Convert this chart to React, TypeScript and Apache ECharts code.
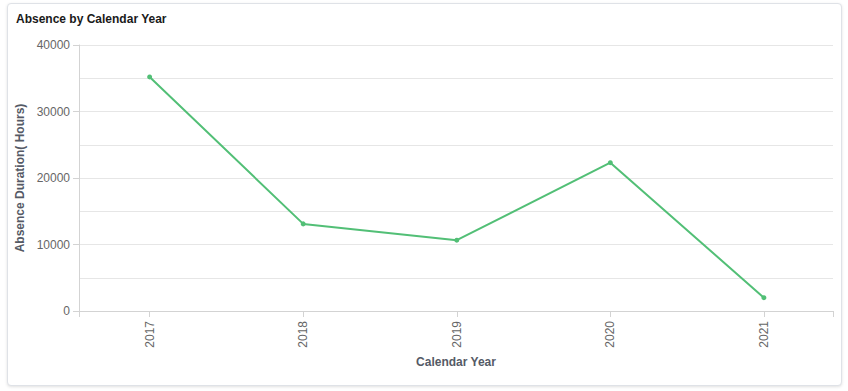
import React, { useEffect, useRef } from "react";
import * as echarts from "echarts";

const years = [2017, 2018, 2019, 2020, 2021];
const hours = [35200, 13100, 10650, 22300, 2000];

const FONT = "'Liberation Sans', Arial, Helvetica, sans-serif";

export default function App() {
  const ref = useRef<HTMLDivElement>(null);

  useEffect(() => {
    document.body.style.margin = "0";
    if (!ref.current) return;
    const chart = echarts.init(ref.current, undefined, { renderer: "svg" });
    chart.setOption({
      animation: false,
      title: {
        text: "Absence by Calendar Year",
        left: 11,
        top: 8,
        textStyle: { fontFamily: FONT, fontSize: 12, fontWeight: "bold", color: "#1a1a1a" },
      },
      grid: { left: 79, right: 15, top: 45, bottom: 80, containLabel: false },
      xAxis: {
        type: "value",
        min: 2016.54,
        max: 2021.45,
        name: "Calendar Year",
        nameLocation: "middle",
        nameGap: 34,
        nameTextStyle: { fontFamily: FONT, fontSize: 12, fontWeight: "bold", color: "#555a66" },
        axisLine: { show: true, lineStyle: { color: "#d3d3d3" } },
        axisTick: { show: true, length: 6, lineStyle: { color: "#d3d3d3" }, customValues: [2016.54, ...years, 2021.45] },
        axisLabel: {
          customValues: years,
          rotate: 90,
          margin: 10,
          fontFamily: FONT,
          fontSize: 12,
          color: "#666666",
          formatter: (v: number) => String(Math.round(v)),
        },
        splitLine: { show: false },
      },
      yAxis: {
        type: "value",
        min: 0,
        max: 40000,
        interval: 10000,
        splitNumber: 4,
        name: "Absence Duration( Hours)",
        nameLocation: "middle",
        nameGap: 46,
        nameTextStyle: { fontFamily: FONT, fontSize: 12, fontWeight: "bold", color: "#555a66" },
        axisLine: { show: true, lineStyle: { color: "#d3d3d3" } },
        axisTick: { show: true, length: 6, lineStyle: { color: "#d3d3d3" } },
        axisLabel: {
          margin: 9,
          fontFamily: FONT,
          fontSize: 12,
          color: "#666666",
          formatter: (v: number) => String(v),
        },
        splitLine: { show: true, lineStyle: { color: "#e6e6e6" } },
        minorTick: { show: false, splitNumber: 2 },
        minorSplitLine: { show: true, lineStyle: { color: "#e6e6e6" } },
      },
      series: [
        {
          type: "line",
          data: years.map((y, i) => [y, hours[i]]),
          symbol: "circle",
          symbolSize: 5,
          showSymbol: true,
          lineStyle: { color: "#52bf76", width: 2 },
          itemStyle: { color: "#52bf76" },
        },
      ],
    });
    return () => chart.dispose();
  }, []);

  return (
    <div style={{ position: "relative", width: 848, height: 391, background: "#fff", overflow: "hidden" }}>
      <div
        style={{
          position: "absolute",
          left: 7,
          top: 3,
          width: 833,
          height: 381,
          border: "1px solid #dfe2e7",
          borderRadius: 4,
          boxShadow: "0 1px 3px rgba(0,0,0,0.12)",
          background: "#fff",
        }}
      />
      <div ref={ref} style={{ position: "absolute", left: 0, top: 0, width: 848, height: 391 }} />
    </div>
  );
}
